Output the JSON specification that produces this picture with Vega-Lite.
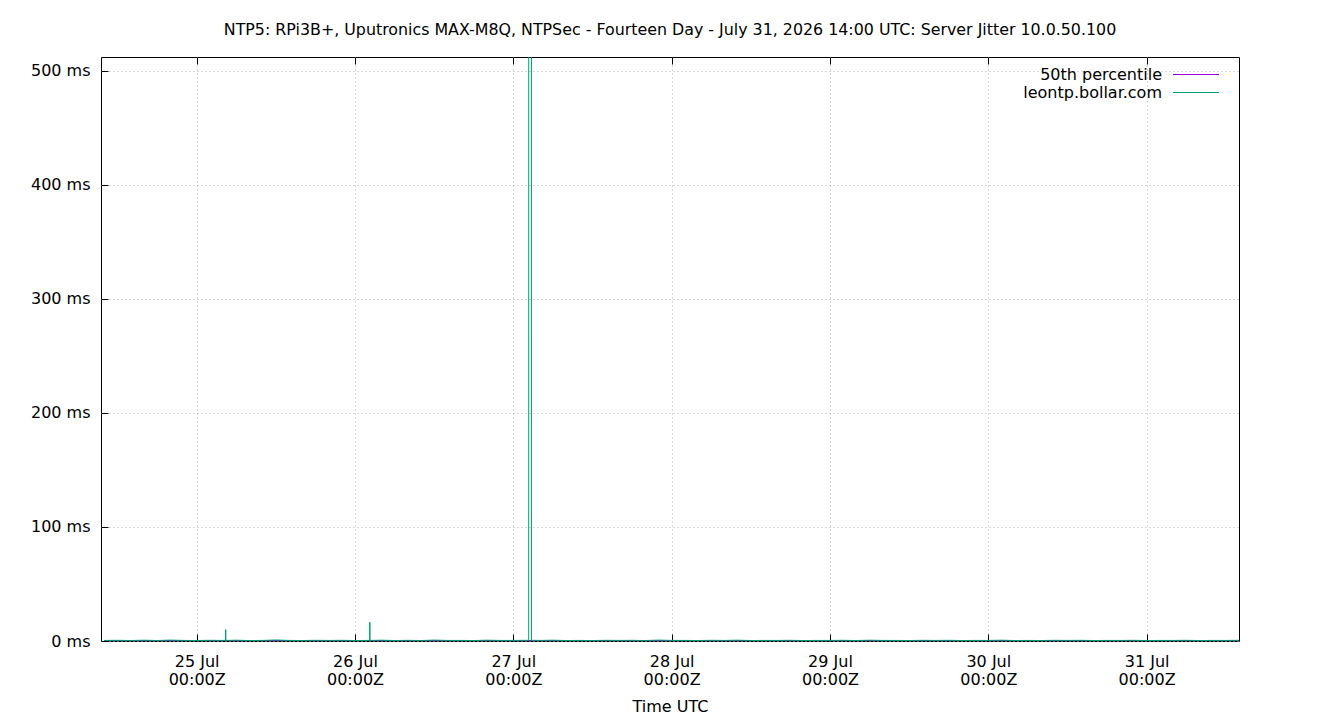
{
  "$schema": "https://vega.github.io/schema/vega-lite/v6.json",
  "autosize": "none",
  "width": 1138,
  "height": 584,
  "padding": {"left": 101, "top": 57, "right": 101, "bottom": 79},
  "background": "white",
  "title": {
    "text": "NTP5: RPi3B+, Uputronics MAX-M8Q, NTPSec - Fourteen Day - July 31, 2026 14:00 UTC: Server Jitter 10.0.50.100",
    "anchor": "middle",
    "offset": 19,
    "fontSize": 15.85,
    "fontWeight": "normal",
    "font": "DejaVu Sans",
    "color": "black"
  },
  "data": {
    "values": [
      {"time": "2026-07-24T10:00:00Z", "value": 0.4, "series": "50th percentile"},
      {"time": "2026-07-31T14:00:00Z", "value": 0.4, "series": "50th percentile"},
      {"time": "2026-07-24T10:00:00Z", "value": 0.5, "series": "leontp.bollar.com"},
      {"time": "2026-07-24T12:00:00Z", "value": 0.6, "series": "leontp.bollar.com"},
      {"time": "2026-07-24T14:00:00Z", "value": 0.4, "series": "leontp.bollar.com"},
      {"time": "2026-07-24T16:00:00Z", "value": 0.7, "series": "leontp.bollar.com"},
      {"time": "2026-07-24T18:00:00Z", "value": 0.4, "series": "leontp.bollar.com"},
      {"time": "2026-07-24T20:00:00Z", "value": 0.8, "series": "leontp.bollar.com"},
      {"time": "2026-07-24T22:00:00Z", "value": 0.5, "series": "leontp.bollar.com"},
      {"time": "2026-07-25T00:00:00Z", "value": 0.4, "series": "leontp.bollar.com"},
      {"time": "2026-07-25T02:00:00Z", "value": 0.6, "series": "leontp.bollar.com"},
      {"time": "2026-07-25T04:00:00Z", "value": 0.5, "series": "leontp.bollar.com"},
      {"time": "2026-07-25T04:22:00Z", "value": 0.5, "series": "leontp.bollar.com"},
      {"time": "2026-07-25T04:24:00Z", "value": 10.0, "series": "leontp.bollar.com"},
      {"time": "2026-07-25T04:26:00Z", "value": 0.5, "series": "leontp.bollar.com"},
      {"time": "2026-07-25T06:00:00Z", "value": 0.7, "series": "leontp.bollar.com"},
      {"time": "2026-07-25T08:00:00Z", "value": 0.4, "series": "leontp.bollar.com"},
      {"time": "2026-07-25T10:00:00Z", "value": 0.5, "series": "leontp.bollar.com"},
      {"time": "2026-07-25T12:00:00Z", "value": 0.9, "series": "leontp.bollar.com"},
      {"time": "2026-07-25T14:00:00Z", "value": 0.5, "series": "leontp.bollar.com"},
      {"time": "2026-07-25T16:00:00Z", "value": 0.4, "series": "leontp.bollar.com"},
      {"time": "2026-07-25T18:00:00Z", "value": 0.6, "series": "leontp.bollar.com"},
      {"time": "2026-07-25T20:00:00Z", "value": 0.5, "series": "leontp.bollar.com"},
      {"time": "2026-07-25T22:00:00Z", "value": 0.6, "series": "leontp.bollar.com"},
      {"time": "2026-07-26T00:00:00Z", "value": 0.4, "series": "leontp.bollar.com"},
      {"time": "2026-07-26T02:00:00Z", "value": 0.5, "series": "leontp.bollar.com"},
      {"time": "2026-07-26T02:13:00Z", "value": 0.5, "series": "leontp.bollar.com"},
      {"time": "2026-07-26T02:15:00Z", "value": 16.4, "series": "leontp.bollar.com"},
      {"time": "2026-07-26T02:17:00Z", "value": 0.5, "series": "leontp.bollar.com"},
      {"time": "2026-07-26T04:00:00Z", "value": 0.7, "series": "leontp.bollar.com"},
      {"time": "2026-07-26T06:00:00Z", "value": 0.4, "series": "leontp.bollar.com"},
      {"time": "2026-07-26T08:00:00Z", "value": 0.6, "series": "leontp.bollar.com"},
      {"time": "2026-07-26T10:00:00Z", "value": 0.4, "series": "leontp.bollar.com"},
      {"time": "2026-07-26T12:00:00Z", "value": 0.8, "series": "leontp.bollar.com"},
      {"time": "2026-07-26T14:00:00Z", "value": 0.5, "series": "leontp.bollar.com"},
      {"time": "2026-07-26T16:00:00Z", "value": 0.5, "series": "leontp.bollar.com"},
      {"time": "2026-07-26T18:00:00Z", "value": 0.4, "series": "leontp.bollar.com"},
      {"time": "2026-07-26T20:00:00Z", "value": 0.7, "series": "leontp.bollar.com"},
      {"time": "2026-07-26T22:00:00Z", "value": 0.5, "series": "leontp.bollar.com"},
      {"time": "2026-07-27T00:00:00Z", "value": 0.5, "series": "leontp.bollar.com"},
      {"time": "2026-07-27T02:00:00Z", "value": 0.6, "series": "leontp.bollar.com"},
      {"time": "2026-07-27T02:20:00Z", "value": 0.5, "series": "leontp.bollar.com"},
      {"time": "2026-07-27T02:21:00Z", "value": 3000, "series": "leontp.bollar.com"},
      {"time": "2026-07-27T02:44:00Z", "value": 3000, "series": "leontp.bollar.com"},
      {"time": "2026-07-27T02:45:00Z", "value": 0.6, "series": "leontp.bollar.com"},
      {"time": "2026-07-27T04:00:00Z", "value": 0.5, "series": "leontp.bollar.com"},
      {"time": "2026-07-27T06:00:00Z", "value": 0.7, "series": "leontp.bollar.com"},
      {"time": "2026-07-27T08:00:00Z", "value": 0.4, "series": "leontp.bollar.com"},
      {"time": "2026-07-27T10:00:00Z", "value": 0.5, "series": "leontp.bollar.com"},
      {"time": "2026-07-27T12:00:00Z", "value": 0.4, "series": "leontp.bollar.com"},
      {"time": "2026-07-27T14:00:00Z", "value": 0.6, "series": "leontp.bollar.com"},
      {"time": "2026-07-27T16:00:00Z", "value": 0.5, "series": "leontp.bollar.com"},
      {"time": "2026-07-27T18:00:00Z", "value": 0.6, "series": "leontp.bollar.com"},
      {"time": "2026-07-27T20:00:00Z", "value": 0.4, "series": "leontp.bollar.com"},
      {"time": "2026-07-27T22:00:00Z", "value": 0.8, "series": "leontp.bollar.com"},
      {"time": "2026-07-28T00:00:00Z", "value": 0.5, "series": "leontp.bollar.com"},
      {"time": "2026-07-28T02:00:00Z", "value": 0.5, "series": "leontp.bollar.com"},
      {"time": "2026-07-28T04:00:00Z", "value": 0.4, "series": "leontp.bollar.com"},
      {"time": "2026-07-28T06:00:00Z", "value": 0.6, "series": "leontp.bollar.com"},
      {"time": "2026-07-28T08:00:00Z", "value": 0.5, "series": "leontp.bollar.com"},
      {"time": "2026-07-28T10:00:00Z", "value": 0.7, "series": "leontp.bollar.com"},
      {"time": "2026-07-28T12:00:00Z", "value": 0.4, "series": "leontp.bollar.com"},
      {"time": "2026-07-28T14:00:00Z", "value": 0.5, "series": "leontp.bollar.com"},
      {"time": "2026-07-28T16:00:00Z", "value": 0.5, "series": "leontp.bollar.com"},
      {"time": "2026-07-28T18:00:00Z", "value": 0.6, "series": "leontp.bollar.com"},
      {"time": "2026-07-28T20:00:00Z", "value": 0.4, "series": "leontp.bollar.com"},
      {"time": "2026-07-28T22:00:00Z", "value": 0.5, "series": "leontp.bollar.com"},
      {"time": "2026-07-29T00:00:00Z", "value": 0.5, "series": "leontp.bollar.com"},
      {"time": "2026-07-29T02:00:00Z", "value": 0.6, "series": "leontp.bollar.com"},
      {"time": "2026-07-29T04:00:00Z", "value": 0.4, "series": "leontp.bollar.com"},
      {"time": "2026-07-29T06:00:00Z", "value": 0.7, "series": "leontp.bollar.com"},
      {"time": "2026-07-29T08:00:00Z", "value": 0.5, "series": "leontp.bollar.com"},
      {"time": "2026-07-29T10:00:00Z", "value": 0.5, "series": "leontp.bollar.com"},
      {"time": "2026-07-29T12:00:00Z", "value": 0.4, "series": "leontp.bollar.com"},
      {"time": "2026-07-29T14:00:00Z", "value": 0.6, "series": "leontp.bollar.com"},
      {"time": "2026-07-29T16:00:00Z", "value": 0.5, "series": "leontp.bollar.com"},
      {"time": "2026-07-29T18:00:00Z", "value": 0.6, "series": "leontp.bollar.com"},
      {"time": "2026-07-29T20:00:00Z", "value": 0.4, "series": "leontp.bollar.com"},
      {"time": "2026-07-29T22:00:00Z", "value": 0.5, "series": "leontp.bollar.com"},
      {"time": "2026-07-30T00:00:00Z", "value": 0.5, "series": "leontp.bollar.com"},
      {"time": "2026-07-30T02:00:00Z", "value": 0.7, "series": "leontp.bollar.com"},
      {"time": "2026-07-30T04:00:00Z", "value": 0.4, "series": "leontp.bollar.com"},
      {"time": "2026-07-30T06:00:00Z", "value": 0.5, "series": "leontp.bollar.com"},
      {"time": "2026-07-30T08:00:00Z", "value": 0.4, "series": "leontp.bollar.com"},
      {"time": "2026-07-30T10:00:00Z", "value": 0.6, "series": "leontp.bollar.com"},
      {"time": "2026-07-30T12:00:00Z", "value": 0.5, "series": "leontp.bollar.com"},
      {"time": "2026-07-30T14:00:00Z", "value": 0.6, "series": "leontp.bollar.com"},
      {"time": "2026-07-30T16:00:00Z", "value": 0.4, "series": "leontp.bollar.com"},
      {"time": "2026-07-30T18:00:00Z", "value": 0.5, "series": "leontp.bollar.com"},
      {"time": "2026-07-30T20:00:00Z", "value": 0.5, "series": "leontp.bollar.com"},
      {"time": "2026-07-30T22:00:00Z", "value": 0.6, "series": "leontp.bollar.com"},
      {"time": "2026-07-31T00:00:00Z", "value": 0.4, "series": "leontp.bollar.com"},
      {"time": "2026-07-31T02:00:00Z", "value": 0.5, "series": "leontp.bollar.com"},
      {"time": "2026-07-31T04:00:00Z", "value": 0.5, "series": "leontp.bollar.com"},
      {"time": "2026-07-31T06:00:00Z", "value": 0.6, "series": "leontp.bollar.com"},
      {"time": "2026-07-31T08:00:00Z", "value": 0.4, "series": "leontp.bollar.com"},
      {"time": "2026-07-31T10:00:00Z", "value": 0.5, "series": "leontp.bollar.com"},
      {"time": "2026-07-31T12:00:00Z", "value": 0.5, "series": "leontp.bollar.com"},
      {"time": "2026-07-31T14:00:00Z", "value": 0.6, "series": "leontp.bollar.com"}
    ]
  },
  "layer": [
    {
      "transform": [{"filter": "datum.series === '50th percentile'"}],
      "mark": {"type": "line", "clip": true, "strokeWidth": 1},
      "encoding": {
        "x": {
          "field": "time",
          "type": "temporal",
          "scale": {
            "type": "utc",
            "domain": [
              {"year": 2026, "month": 7, "date": 24, "hours": 9, "minutes": 30, "utc": true},
              {"year": 2026, "month": 7, "date": 31, "hours": 14, "utc": true}
            ]
          },
          "axis": {
            "orient": "top",
            "labels": false,
            "title": null,
            "grid": false,
            "domain": false,
            "tickSize": -7,
            "tickColor": "black",
            "values": [
              {"year": 2026, "month": 7, "date": 25, "utc": true},
              {"year": 2026, "month": 7, "date": 26, "utc": true},
              {"year": 2026, "month": 7, "date": 27, "utc": true},
              {"year": 2026, "month": 7, "date": 28, "utc": true},
              {"year": 2026, "month": 7, "date": 29, "utc": true},
              {"year": 2026, "month": 7, "date": 30, "utc": true},
              {"year": 2026, "month": 7, "date": 31, "utc": true}
            ]
          }
        },
        "y": {
          "field": "value",
          "type": "quantitative",
          "scale": {"domain": [0, 512], "nice": false},
          "axis": {
            "title": null,
            "values": [0, 100, 200, 300, 400, 500],
            "labelExpr": "datum.value + ' ms'",
            "tickSize": -7,
            "tickColor": "black",
            "labelPadding": 18,
            "domain": false,
            "grid": true,
            "gridColor": "#b0b0b0",
            "gridDash": [1, 3],
            "labelFontSize": 16,
            "labelFont": "DejaVu Sans",
            "labelColor": "black"
          }
        },
        "color": {
          "field": "series",
          "type": "nominal",
          "scale": {
            "domain": ["50th percentile", "leontp.bollar.com"],
            "range": ["#9400d3", "#009e73"]
          },
          "legend": {
            "orient": "none",
            "legendX": 1085,
            "legendY": 7.5,
            "title": null,
            "symbolType": "M-2.5,0H2.5",
            "symbolSize": 339,
            "symbolStrokeWidth": 1,
            "symbolOpacity": 1,
            "labelAlign": "right",
            "labelOffset": -44,
            "labelFontSize": 16,
            "labelFont": "DejaVu Sans",
            "labelColor": "black",
            "rowPadding": -1
          }
        }
      }
    },
    {
      "transform": [{"filter": "datum.series === 'leontp.bollar.com'"}],
      "mark": {"type": "line", "clip": true, "strokeWidth": 1},
      "encoding": {
        "x": {
          "field": "time",
          "type": "temporal",
          "scale": {"type": "utc"},
          "axis": {
            "orient": "bottom",
            "title": "Time UTC",
            "titleFontSize": 16,
            "titleFontWeight": "normal",
            "titleFont": "DejaVu Sans",
            "titleColor": "black",
            "titlePadding": 11,
            "labelExpr": "[utcFormat(datum.value, '%d %b'), utcFormat(datum.value, '%H:%MZ')]",
            "labelFontSize": 16,
            "labelFont": "DejaVu Sans",
            "labelColor": "black",
            "labelLineHeight": 18,
            "labelPadding": 19,
            "tickSize": -7,
            "tickColor": "black",
            "domain": false,
            "grid": true,
            "gridColor": "#b0b0b0",
            "gridDash": [1, 3],
            "values": [
              {"year": 2026, "month": 7, "date": 25, "utc": true},
              {"year": 2026, "month": 7, "date": 26, "utc": true},
              {"year": 2026, "month": 7, "date": 27, "utc": true},
              {"year": 2026, "month": 7, "date": 28, "utc": true},
              {"year": 2026, "month": 7, "date": 29, "utc": true},
              {"year": 2026, "month": 7, "date": 30, "utc": true},
              {"year": 2026, "month": 7, "date": 31, "utc": true}
            ]
          }
        },
        "y": {"field": "value", "type": "quantitative"},
        "color": {"field": "series", "type": "nominal"}
      }
    }
  ],
  "resolve": {"axis": {"x": "independent"}},
  "config": {
    "view": {"stroke": "black", "strokeWidth": 1},
    "font": "DejaVu Sans"
  }
}
